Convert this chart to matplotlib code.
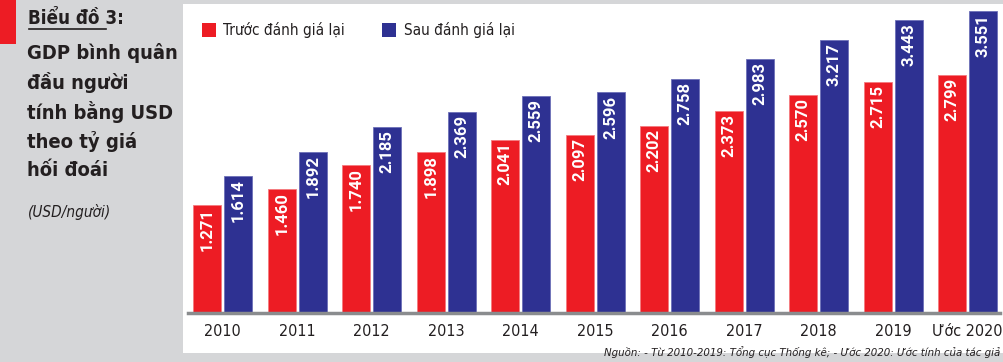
import matplotlib.pyplot as plt
from matplotlib.patches import Rectangle

years = ["2010", "2011", "2012", "2013", "2014", "2015", "2016", "2017", "2018", "2019", "Ước 2020"]
truoc = [1271, 1460, 1740, 1898, 2041, 2097, 2202, 2373, 2570, 2715, 2799]
sau = [1614, 1892, 2185, 2369, 2559, 2596, 2758, 2983, 3217, 3443, 3551]

RED = "#ed1c24"
BLUE = "#2e3192"
GRAY = "#d5d6d8"
NARROW = ["DejaVu Sans"]
ST = "condensed"

fig = plt.figure(figsize=(10.04, 3.62), dpi=100)
fig.patch.set_facecolor(GRAY)

W, H = 1004, 362


def fx(px):
    return px / W


def fy(py):
    return 1 - py / H


# white panel and red tab
fig.patches.append(Rectangle((fx(183), fy(353)), fx(1004 - 183), (353 - 4) / H,
                             transform=fig.transFigure, facecolor="white", edgecolor="none", zorder=-5))
fig.patches.append(Rectangle((0, fy(44)), fx(16), 44 / H,
                             transform=fig.transFigure, facecolor=RED, edgecolor="none", zorder=-5))

# left title block
fig.text(fx(28), fy(18), "Biểu đồ 3:", family=NARROW, stretch=ST, fontweight="bold", fontsize=13.5,
         va="center", ha="left", color="#231f20")
fig.add_artist(plt.Line2D([fx(29), fx(106)], [fy(29), fy(29)], color="#231f20", lw=1.2))
title_lines = ["GDP bình quân", "đầu người", "tính bằng USD", "theo tỷ giá", "hối đoái"]
for i, line in enumerate(title_lines):
    fig.text(fx(27), fy(53 + i * 29.5), line, family=NARROW, stretch=ST, fontweight="bold", fontsize=14.5,
             va="center", ha="left", color="#231f20")
fig.text(fx(28), fy(212), "(USD/người)", family=NARROW, stretch=ST, style="italic", fontsize=11,
         va="center", ha="left", color="#231f20")

ax = fig.add_axes([fx(188), 49 / H, fx(1000 - 188), (313 - 4) / H])
ax.set_zorder(2)
ax.set_facecolor("none")
x = list(range(len(years)))
off = 0.208
bw = 0.376
ax.bar([i - off for i in x], truoc, width=bw, color=RED, edgecolor="#f47a7e", linewidth=0.6, zorder=2)
ax.bar([i + off for i in x], sau, width=bw, color=BLUE, edgecolor="#6d70b8", linewidth=0.6, zorder=2)

for i in x:
    for xv, v in ((i - off, truoc[i]), (i + off, sau[i])):
        s = f"{v:,}".replace(",", ".")
        ax.annotate(s, (xv, v), xytext=(0, -3), textcoords="offset pixels", rotation=90,
                    ha="center", va="top", color="white", fontsize=12, fontweight="bold",
                    family="Roboto", zorder=3)

ax.set_xlim(-0.4666, 10.436)
ax.set_ylim(0, 3636)
for sp in ["top", "right", "left"]:
    ax.spines[sp].set_visible(False)
ax.spines["bottom"].set_color("#8a8c8e")
ax.spines["bottom"].set_linewidth(2.5)
ax.set_yticks([])
ax.set_xticks(x)
ax.set_xticklabels(years, family=NARROW, stretch=ST, fontsize=11.5, color="#231f20")
ax.tick_params(axis="x", length=0, pad=8)

# legend
fig.patches.append(Rectangle((fx(202), fy(37)), fx(14), 14 / H, transform=fig.transFigure,
                             facecolor=RED, edgecolor="none"))
fig.text(fx(223), fy(30), "Trước đánh giá lại", family=NARROW, stretch=ST, fontsize=11, va="center",
         ha="left", color="#231f20")
fig.patches.append(Rectangle((fx(382), fy(37)), fx(14), 14 / H, transform=fig.transFigure,
                             facecolor=BLUE, edgecolor="none"))
fig.text(fx(404), fy(30), "Sau đánh giá lại", family=NARROW, stretch=ST, fontsize=11, va="center",
         ha="left", color="#231f20")

# source
fig.text(fx(1000), fy(352), "Nguồn: - Từ 2010-2019: Tổng cục Thống kê; - Ước 2020: Ước tính của tác giả",
         family=NARROW, stretch=ST, style="italic", fontsize=8.2, va="center", ha="right", color="#231f20")

fig.savefig("out.png", dpi=100, facecolor=fig.get_facecolor())
